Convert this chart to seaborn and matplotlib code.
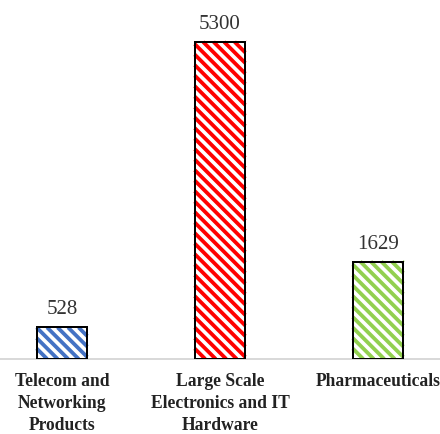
import matplotlib
matplotlib.use('Agg')
import matplotlib.pyplot as plt
import numpy as np
import seaborn as sns
from matplotlib.collections import LineCollection

categories = ["Telecom and\nNetworking\nProducts",
              "Large Scale\nElectronics and IT\nHardware",
              "Pharmaceuticals"]
values = [528, 5300, 1629]
colors = ["#4472C4", "#FF0000", "#92D050"]

sns.set_style('white')

fig_w, fig_h = 440 / 72, 434 / 72
fig = plt.figure(figsize=(fig_w, fig_h), dpi=72)
ax_rect = [0, 75 / 434, 1, 359 / 434]
ax = fig.add_axes(ax_rect)

# white bars, stripes get drawn over them later
sns.barplot(x=categories, y=values, hue=categories, palette=colors,
            width=0.32, errorbar=None, legend=False, ax=ax)
fill_bars = list(ax.patches)
for patch in fill_bars:
    patch.set_facecolor('white')
    patch.set_linewidth(0)

# black outline on top
sns.barplot(x=categories, y=values, color='black', fill=False,
            width=0.32, errorbar=None, linewidth=2, ax=ax)
for patch in ax.patches[len(fill_bars):]:
    patch.set_zorder(3)
ax.bar_label(ax.containers[-1], labels=[str(v) for v in values], padding=8,
             fontsize=21, fontfamily='Liberation Serif', color='#333333')

xlim = (-0.392, 2.392)
ylim = (0, 6000)
ax.set_xlim(xlim)
ax.set_ylim(ylim)
ax.set_yticks([])
for s in ['top', 'left', 'right']:
    ax.spines[s].set_visible(False)
ax.spines['bottom'].set_color('#d9d9d9')
ax.spines['bottom'].set_linewidth(2)
ax.tick_params(axis='x', length=0, pad=14)
for lbl in ax.get_xticklabels():
    lbl.set_fontfamily('Liberation Serif')
    lbl.set_fontweight('bold')
    lbl.set_fontsize(17.5)
    lbl.set_color('#222222')
    lbl.set_linespacing(1.4)

# diagonal "\" stripes in each bar's colour, worked out in inches so they
# stay at 45 degrees whatever the dpi, then cut to the bar rectangle
sx = fig_w * ax_rect[2] / (xlim[1] - xlim[0])   # inches per x unit
sy = fig_h * ax_rect[3] / (ylim[1] - ylim[0])   # inches per y unit
spacing = 10.5 / 72
for patch, c in zip(fill_bars, colors):
    x0 = patch.get_x() * sx
    x1 = (patch.get_x() + patch.get_width()) * sx
    y0 = patch.get_y() * sy
    y1 = (patch.get_y() + patch.get_height()) * sy
    segs = []
    for k in np.arange(x0 + y0, x1 + y1, spacing):
        xa = max(x0, k - y1)
        xb = min(x1, k - y0)
        if xb > xa:
            segs.append([(xa / sx, (k - xa) / sy), (xb / sx, (k - xb) / sy)])
    lc = LineCollection(segs, colors=c, linewidths=3.8, capstyle='butt', zorder=2)
    ax.add_collection(lc, autolim=False)

fig.savefig('out.png', dpi=72)
